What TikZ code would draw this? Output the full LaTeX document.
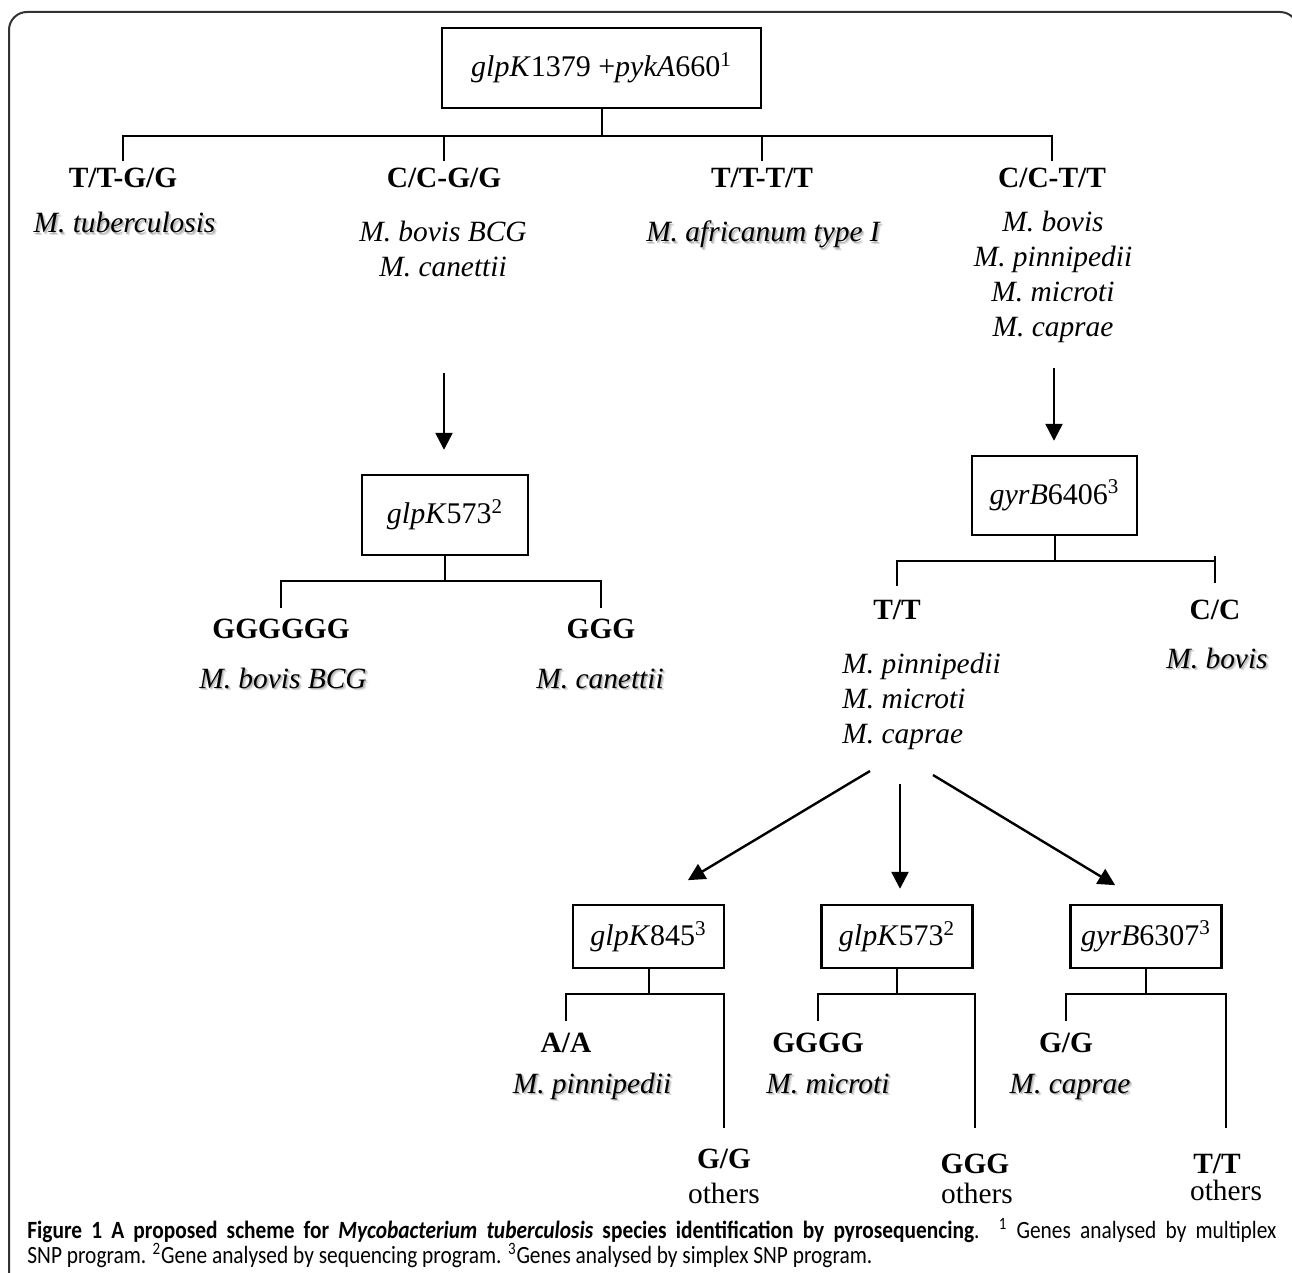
\documentclass[tikz,border=0pt]{standalone}
\usepackage{fontspec}
\setmainfont{Liberation Serif}
\newfontfamily\capfont{Carlito}
\usetikzlibrary{arrows.meta}
\newcommand\shd[1]{\rlap{\kern1.3pt\raisebox{-1.3pt}{\color{black!14}#1}}\rlap{\kern0.7pt\raisebox{-0.7pt}{\color{black!28}#1}}#1}
\begin{document}
\begin{tikzpicture}[x=0.5pt,y=-0.5pt,
  ln/.style={line width=1pt, black},
  arr/.style={line width=1.2pt, -{Triangle[length=8.5pt,width=8.5pt]}},
  gbox/.style={draw, line width=1.2pt, inner sep=0pt, font=\fontsize{15}{18}\selectfont},
  lab/.style={inner sep=0pt, anchor=base, font=\fontsize{14.7}{17}\selectfont},
  gt/.style={lab, font=\fontsize{14.7}{17}\selectfont\bfseries},
  sp/.style={lab, font=\fontsize{14.7}{17}\selectfont\itshape},
]
\useasboundingbox (0,0) rectangle (1292,1273);
\fill[white] (0,0) rectangle (1292,1273);
% frame
\draw[line width=1pt, black!80, rounded corners=9pt] (9,1290) -- (9,12) -- (1298,12) -- (1298,1290);

% top level
\node[gbox, minimum width=159.5pt, minimum height=40pt] (b1) at (601.5,68) {\textit{glpK}1379 +\textit{pykA}660\textsuperscript{1}};
\node[gt] (g1) at (123,188) {T/T-G/G};
\node[sp] (s1) at (124.5,233) {\shd{M. tuberculosis}};
\node[gt] (g2) at (444,188) {C/C-G/G};
\node[sp] (s2) at (443,242) {M. bovis BCG};
\node[sp] (s2b) at (443,277) {M. canettii};
\node[gt] (g3) at (762,188) {T/T-T/T};
\node[sp] (s3) at (763,242) {\shd{M. africanum type I}};
\node[gt] (g4) at (1052,188) {C/C-T/T};
\node[sp] (s4) at (1053,232) {M. bovis};
\node[sp] (s4b) at (1053,267) {M. pinnipedii};
\node[sp] (s4c) at (1053,302) {M. microti};
\node[sp] (s4d) at (1053,337) {M. caprae};

\draw[ln] (b1.south) -- ++(0,27) coordinate (j1);
\draw[ln] (g1 |- j1) ++(0,25) -- (g1 |- j1) -- (g4 |- j1) -- ++(0,25);
\draw[ln] (g2 |- j1) -- ++(0,25);
\draw[ln] (g3 |- j1) -- ++(0,25);

% left sub-tree
\coordinate (a1) at (444,373);
\node[gbox, minimum width=83pt, minimum height=40pt] (b2) at (445,515) {\textit{glpK}573\textsuperscript{2}};
\draw[arr, shorten >=12pt] (a1) -- (a1 |- b2.north);
\draw[ln] (b2.south) -- ++(0,25) coordinate (j2);
\node[gt] (h1) at (281,639) {GGGGGG};
\node[sp] (h1s) at (283,688) {\shd{M. bovis BCG}};
\node[gt] (h2) at (601,639) {GGG};
\node[sp] (h2s) at (600,688) {\shd{M. canettii}};
\draw[ln] (h1 |- j2) ++(0,27) -- (h1 |- j2) -- (h2 |- j2) -- ++(0,27);

% right sub-tree
\coordinate (a2) at (1054,368);
\node[gbox, minimum width=82.5pt, minimum height=39.5pt] (b3) at (1054.5,495.5) {\textit{gyrB}6406\textsuperscript{3}};
\draw[arr, shorten >=7pt] (a2) -- (a2 |- b3.north);
\draw[ln] (b3.south) -- ++(0,25) coordinate (j3);
\node[gt] (k1) at (897,619) {T/T};
\node[gt] (k2) at (1215,619) {C/C};
\draw[ln] (k1 |- j3) ++(0,25) -- (k1 |- j3) -- (k2 |- j3) ++(0,-5) -- ++(0,27);
\node[sp, anchor=base west] (k1a) at (842,673) {M. pinnipedii};
\node[sp, anchor=base west] (k1b) at (842,708) {M. microti};
\node[sp, anchor=base west] (k1c) at (842,743) {M. caprae};
\node[sp] (k2s) at (1217,668) {\shd{M. bovis}};

% fan of arrows
\coordinate (f1) at (870,771);
\coordinate (f2) at (900,784);
\coordinate (f3) at (933,775);
\node[gbox, minimum width=75.5pt, minimum height=31.5pt] (c1) at (648.5,936.5) {\textit{glpK}845\textsuperscript{3}};
\node[gbox, minimum width=75.5pt, minimum height=31.5pt] (c2) at (897,936.5) {\textit{glpK}573\textsuperscript{2}};
\node[gbox, minimum width=75.5pt, minimum height=31.5pt] (c3) at (1146,936.5) {\textit{gyrB}6307\textsuperscript{3}};
\draw[arr, shorten >=23pt] (f1) -- (c1.north);
\draw[arr, shorten >=7.5pt] (f2) -- (f2 |- c2.north);
\draw[arr, shorten >=18pt] (f3) -- (c3.north);

% bottom branches
\draw[ln] (c1.south) -- ++(0,25) coordinate (m1);
\node[gt] (n1) at (566,1052) {A/A};
\node[sp] (n1s) at (592,1093) {\shd{M. pinnipedii}};
\node[gt] (n2) at (724,1168) {G/G};
\node[lab] (n2s) at (724,1203) {others};
\draw[ln] (n1 |- m1) ++(0,27) -- (n1 |- m1) -- (n2 |- m1) -- ++(0,134);

\draw[ln] (c2.south) -- ++(0,25) coordinate (m2);
\node[gt] (p1) at (818,1052) {GGGG};
\node[sp] (p1s) at (828,1093) {\shd{M. microti}};
\node[gt] (p2) at (975,1173) {GGG};
\node[lab] (p2s) at (977,1203) {others};
\draw[ln] (p1 |- m2) ++(0,27) -- (p1 |- m2) -- (p2 |- m2) -- ++(0,134);

\draw[ln] (c3.south) -- ++(0,25) coordinate (m3);
\node[gt] (q1) at (1066,1052) {G/G};
\node[sp] (q1s) at (1070,1093) {\shd{M. caprae}};
\node[gt] (q2) at (1217,1173) {T/T};
\node[lab] (q2s) at (1226,1200) {others};
\draw[ln] (q1 |- m3) ++(0,27) -- (q1 |- m3) -- (q2s |- m3) -- ++(0,134);

% caption
\node[anchor=base west, inner sep=0pt] (cap) at (27,1238) {\scalebox{0.862}[1]{\parbox[t]{724.5pt}{\capfont\fontsize{12.4}{12.5}\selectfont
\hbox to 724.5pt{\textbf{Figure 1 A proposed scheme for \textit{Mycobacterium tuberculosis} species identification by pyrosequencing}. \textsuperscript{1} Genes analysed by multiplex}
\hbox{SNP program. \textsuperscript{2}Gene analysed by sequencing program. \textsuperscript{3}Genes analysed by simplex SNP program.}}}};
\end{tikzpicture}
\end{document}
